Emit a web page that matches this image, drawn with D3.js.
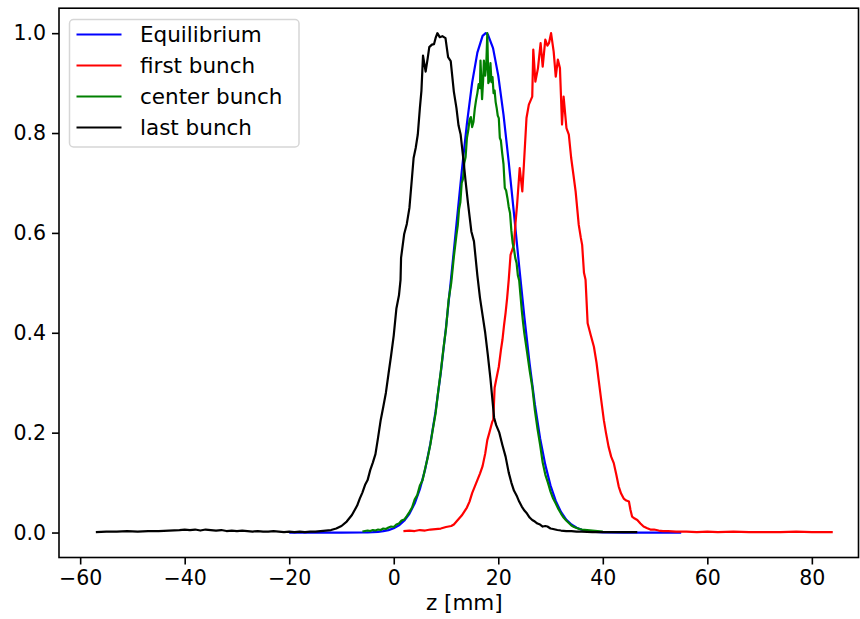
<!DOCTYPE html>
<html>
<head>
<meta charset="utf-8">
<script src="https://cdn.jsdelivr.net/npm/d3@7"></script>
<style>
  html, body { margin: 0; padding: 0; background: #fff; }
  svg { display: block; }
  text { font-family: "DejaVu Sans", sans-serif; fill: #000; }
</style>
</head>
<body>
<svg id="chart" width="860" height="619"></svg>
<script>
// ---------------- data ----------------
const seriesNames = ["Equilibrium", "first bunch", "center bunch", "last bunch"];
const seriesColors = ["#0000ff", "#ff0000", "#008000", "#000000"];

const xTicks = [-60, -40, -20, 0, 20, 40, 60, 80];
const yTicks = [0.0, 0.2, 0.4, 0.6, 0.8, 1.0];
const xLabel = "z [mm]";

// Equilibrium (smooth)
const eqZ = [-20, -15, -10, -6, -5, -4, -3, -2, -1, 0, 1, 2, 3, 4, 5, 6, 7, 8, 9, 10, 11, 12, 13, 14, 15, 16, 17, 17.6, 18, 19, 20, 21, 22, 23, 24, 25, 26, 27, 28, 29, 30, 31, 32, 33, 34, 35, 36, 37, 38, 40, 44, 50, 55];
const eqV = [0, 0, 0, 0.0001, 0.0004, 0.0008, 0.0015, 0.0027, 0.0049, 0.0085, 0.0144, 0.0236, 0.0376, 0.058, 0.0869, 0.126, 0.1775, 0.242, 0.320, 0.411, 0.512, 0.617, 0.722, 0.819, 0.901, 0.961, 0.9945, 1.0, 0.9975, 0.970, 0.915, 0.837, 0.742, 0.639, 0.533, 0.431, 0.338, 0.257, 0.189, 0.1355, 0.0939, 0.0632, 0.0412, 0.026, 0.016, 0.0095, 0.0055, 0.003, 0.0017, 0.0004, 0, 0, 0];

// first bunch
const firstZ = [1.85, 3, 4, 5, 6, 7, 8, 9, 10, 10.5, 11, 11.5, 12, 12.5, 13, 13.5, 14, 14.5, 15, 15.5, 16, 16.5, 17, 17.5, 17.9, 18.3, 18.85, 19.05, 19.3, 19.6, 20.1, 20.5, 20.8, 21.1, 21.4, 21.7, 22.0, 22.35, 23.0, 23.3, 23.6, 24.1, 24.6, 24.9, 25.4, 25.85, 26.5, 26.7, 27.1, 27.6, 28.1, 28.5, 29.0, 29.4, 29.7, 30.1, 30.6, 31.0, 31.4, 31.8, 32.2, 32.5, 33.05, 33.5, 33.95, 34.4, 34.8, 35.4, 35.8, 36.05, 36.4, 36.7, 37.1, 37.7, 38.3, 38.8, 39.2, 39.7, 40.2, 40.6, 41.1, 41.6, 42.1, 42.6, 43.05, 43.5, 44.0, 44.5, 45.0, 45.3, 45.6, 46.1, 46.6, 47.2, 47.8, 48.4, 49.1, 49.8, 50.7, 51.5, 52.5, 54, 56, 58, 60, 62, 65, 68, 71, 74, 77, 80, 84];
const firstV = [0.003, 0.004, 0.003, 0.005, 0.004, 0.006, 0.007, 0.008, 0.011, 0.012, 0.013, 0.016, 0.022, 0.028, 0.034, 0.042, 0.050, 0.062, 0.079, 0.092, 0.105, 0.118, 0.133, 0.158, 0.185, 0.200, 0.222, 0.226, 0.290, 0.306, 0.332, 0.365, 0.386, 0.415, 0.440, 0.470, 0.506, 0.556, 0.576, 0.620, 0.656, 0.730, 0.683, 0.736, 0.830, 0.857, 0.873, 0.967, 0.903, 0.930, 0.980, 0.933, 0.987, 0.975, 0.980, 1.0, 0.963, 0.913, 0.947, 0.930, 0.817, 0.873, 0.810, 0.797, 0.750, 0.715, 0.683, 0.616, 0.590, 0.576, 0.520, 0.506, 0.419, 0.395, 0.372, 0.340, 0.306, 0.265, 0.225, 0.200, 0.172, 0.152, 0.139, 0.115, 0.092, 0.078, 0.068, 0.064, 0.062, 0.045, 0.032, 0.028, 0.025, 0.018, 0.012, 0.009, 0.006, 0.006, 0.004, 0.003, 0.003, 0.002, 0.002, 0.001, 0.002, 0.001, 0.002, 0.001, 0.001, 0.001, 0.002, 0.001, 0.001];

// center bunch
const centerZ = [-6, -5.5, -5, -4.5, -4, -3.5, -3, -2.5, -2, -1.5, -1, -0.5, 0, 0.5, 1, 1.5, 2, 2.5, 3, 3.5, 4, 4.5, 5, 5.5, 6, 6.5, 7, 7.5, 8, 8.5, 9, 9.5, 10, 10.5, 11, 11.5, 12, 12.25, 12.5, 12.75, 13, 13.25, 13.5, 13.75, 14, 14.25, 14.5, 14.75, 15, 15.25, 15.5, 15.75, 16, 16.25, 16.5, 16.6, 16.9, 17.1, 17.25, 17.5, 17.7, 17.9, 18.1, 18.3, 18.5, 18.7, 18.9, 19.1, 19.3, 19.5, 19.7, 19.9, 20.1, 20.3, 20.5, 20.75, 21, 21.25, 21.5, 21.75, 22, 22.25, 22.5, 22.75, 23, 23.25, 23.5, 23.75, 24, 24.25, 24.5, 24.75, 25, 25.5, 26, 26.5, 27, 27.5, 28, 28.5, 29, 29.5, 30, 30.5, 31, 31.5, 32, 32.5, 33, 33.5, 34, 34.5, 35, 35.5, 36, 37, 38, 39, 40];
const centerV = [0.002, 0.003, 0.004, 0.003, 0.005, 0.004, 0.006, 0.005, 0.008, 0.007, 0.010, 0.012, 0.011, 0.016, 0.018, 0.024, 0.026, 0.033, 0.041, 0.050, 0.066, 0.075, 0.094, 0.104, 0.128, 0.150, 0.176, 0.208, 0.238, 0.282, 0.322, 0.368, 0.408, 0.466, 0.500, 0.552, 0.596, 0.615, 0.648, 0.662, 0.700, 0.708, 0.740, 0.752, 0.790, 0.805, 0.826, 0.832, 0.812, 0.822, 0.848, 0.866, 0.880, 0.898, 0.890, 0.945, 0.868, 0.905, 0.945, 0.915, 0.935, 1.0, 0.900, 0.905, 0.940, 0.902, 0.912, 0.880, 0.885, 0.862, 0.850, 0.835, 0.830, 0.790, 0.785, 0.760, 0.738, 0.690, 0.685, 0.670, 0.652, 0.640, 0.605, 0.580, 0.568, 0.550, 0.540, 0.515, 0.505, 0.475, 0.445, 0.420, 0.398, 0.362, 0.325, 0.292, 0.245, 0.208, 0.176, 0.140, 0.116, 0.100, 0.082, 0.068, 0.058, 0.047, 0.038, 0.030, 0.024, 0.019, 0.014, 0.011, 0.009, 0.007, 0.006, 0.005, 0.004, 0.003, 0.002];

// last bunch
const lastZ = [-57, -55, -53, -51, -49, -47, -45, -43, -41, -40, -39, -38, -37, -36, -35, -34, -33, -32, -31, -30, -29, -28, -27, -26, -25, -24, -23, -22, -21, -20, -19, -18, -17, -16, -15, -14, -13, -12, -11, -10, -9, -8, -7, -6.5, -6, -5.5, -5, -4.5, -4, -3.5, -3, -2.5, -2, -1.5, -1, -0.5, 0, 0.5, 1, 1.3, 1.4, 2, 2.5, 3, 3.5, 3.8, 4.2, 4.6, 5, 5.3, 5.6, 6.1, 6.5, 6.8, 7.3, 7.7, 8.0, 8.35, 8.8, 9.3, 9.9, 10.4, 10.9, 11.5, 12, 12.4, 12.8, 13.3, 13.75, 14.2, 14.6, 14.85, 15.35, 16, 16.5, 17, 17.5, 18, 18.5, 19.2, 19.6, 20.2, 20.8, 21.4, 22, 22.5, 23, 23.6, 24, 24.5, 25, 25.5, 26, 26.5, 27, 27.5, 28, 28.5, 29, 29.4, 30, 30.5, 31.3, 32, 33, 34, 35, 36, 38, 40, 42, 44, 46.6];
const lastV = [0.001, 0.002, 0.002, 0.003, 0.002, 0.003, 0.003, 0.004, 0.005, 0.006, 0.005, 0.006, 0.004, 0.006, 0.005, 0.004, 0.005, 0.003, 0.004, 0.003, 0.004, 0.003, 0.002, 0.003, 0.002, 0.002, 0.003, 0.002, 0.001, 0.002, 0.001, 0.002, 0.001, 0.002, 0.002, 0.003, 0.004, 0.005, 0.008, 0.013, 0.022, 0.035, 0.054, 0.068, 0.080, 0.095, 0.105, 0.125, 0.140, 0.157, 0.190, 0.225, 0.252, 0.280, 0.318, 0.355, 0.395, 0.448, 0.475, 0.506, 0.550, 0.598, 0.618, 0.650, 0.712, 0.750, 0.770, 0.797, 0.850, 0.885, 0.955, 0.923, 0.950, 0.972, 0.977, 0.978, 0.990, 1.0, 0.992, 0.994, 0.990, 0.952, 0.944, 0.883, 0.850, 0.815, 0.797, 0.750, 0.703, 0.660, 0.625, 0.603, 0.583, 0.515, 0.470, 0.435, 0.400, 0.356, 0.308, 0.230, 0.215, 0.200, 0.175, 0.152, 0.120, 0.100, 0.084, 0.072, 0.062, 0.052, 0.044, 0.038, 0.030, 0.025, 0.022, 0.018, 0.016, 0.012, 0.013, 0.012, 0.008, 0.007, 0.005, 0.004, 0.003, 0.003, 0.002, 0.002, 0.001, 0.001, 0.001, 0.001, 0.001];

const seriesZ = [eqZ, firstZ, centerZ, lastZ];
const seriesV = [eqV, firstV, centerV, lastV];

// ---------------- layout ----------------
const plotLeft = 59, plotTop = 8.2, plotBottom = 557.5, plotRightVisible = 858.5;
const svg = d3.select("#chart");

const x = d3.scaleLinear().domain([-64.05, 91.05]).range([plotLeft, 869.6]);
const y = d3.scaleLinear().domain([-0.05, 1.05]).range([plotBottom, plotTop]);

// lines
const line = d3.line().x(d => x(d[0])).y(d => y(d[1]));
const gLines = svg.append("g");
seriesNames.forEach((name, i) => {
  const pts = seriesZ[i].map((z, k) => [z, seriesV[i][k]]);
  gLines.append("path")
    .attr("d", line(pts))
    .attr("fill", "none")
    .attr("stroke", seriesColors[i])
    .attr("stroke-width", 2.2)
    .attr("stroke-linejoin", "round")
    .attr("stroke-linecap", "butt");
});

// spines
svg.append("rect")
  .attr("x", plotLeft).attr("y", plotTop)
  .attr("width", plotRightVisible - plotLeft).attr("height", plotBottom - plotTop)
  .attr("fill", "none").attr("stroke", "#000").attr("stroke-width", 1.6);

// x axis
const fmtX = d => (d < 0 ? "\u2212" + Math.abs(d) : String(d));
const xAxis = d3.axisBottom(x).tickValues(xTicks).tickFormat(fmtX).tickSize(7).tickPadding(6);
const gx = svg.append("g").attr("transform", `translate(0,${plotBottom})`).call(xAxis);
gx.select(".domain").remove();
gx.selectAll(".tick line").attr("stroke", "#000").attr("stroke-width", 1.6);
gx.selectAll(".tick text").attr("font-size", "20.5px").attr("font-family", "DejaVu Sans").attr("fill", "#000");

// y axis
const yAxis = d3.axisLeft(y).tickValues(yTicks).tickFormat(d3.format(".1f")).tickSize(7).tickPadding(6);
const gy = svg.append("g").attr("transform", `translate(${plotLeft},0)`).call(yAxis);
gy.select(".domain").remove();
gy.selectAll(".tick line").attr("stroke", "#000").attr("stroke-width", 1.6);
gy.selectAll(".tick text").attr("font-size", "20.5px").attr("font-family", "DejaVu Sans").attr("fill", "#000");

// x label
svg.append("text")
  .attr("x", (plotLeft + 869.6) / 2).attr("y", 610)
  .attr("text-anchor", "middle").attr("font-size", "21.5px")
  .text(xLabel);

// legend
const lg = svg.append("g");
lg.append("rect")
  .attr("x", 69.5).attr("y", 19.5).attr("width", 229.5).attr("height", 127.5)
  .attr("rx", 4).attr("ry", 4)
  .attr("fill", "rgba(255,255,255,0.8)").attr("stroke", "#d6d6d6").attr("stroke-width", 1.5);
seriesNames.forEach((name, i) => {
  const cy = 34.5 + i * 31;
  lg.append("line")
    .attr("x1", 76.5).attr("x2", 121.5).attr("y1", cy).attr("y2", cy)
    .attr("stroke", seriesColors[i]).attr("stroke-width", 2.2);
  lg.append("text")
    .attr("x", 140).attr("y", cy + 7.6)
    .attr("font-size", "21.5px")
    .text(name);
});
</script>
</body>
</html>
